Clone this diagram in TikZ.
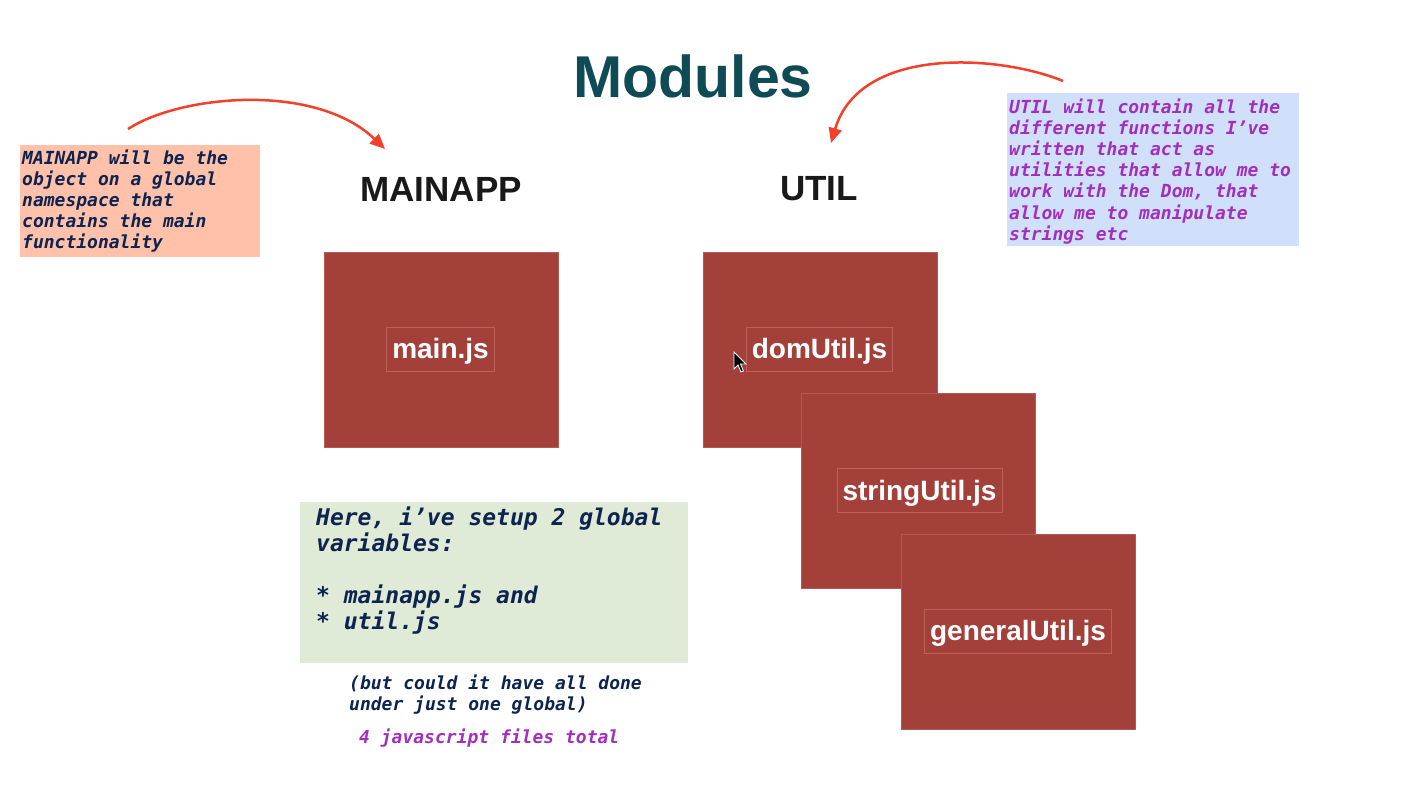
\documentclass[tikz,border=0pt]{standalone}
\usepackage{fontspec}
\usetikzlibrary{arrows.meta}
\newfontfamily\hsans{Liberation Sans}
\newfontfamily\monof{DejaVu Sans Mono}
\definecolor{salmon}{HTML}{FFC1AA}
\definecolor{navy}{HTML}{0D2350}
\definecolor{lblue}{HTML}{D0E0FA}
\definecolor{purp}{HTML}{A22FBC}
\definecolor{lgreen}{HTML}{DFEBD6}
\definecolor{boxred}{HTML}{A4403A}
\definecolor{edgered}{HTML}{B55A52}
\definecolor{labred}{HTML}{BE605A}
\definecolor{teal}{HTML}{0E4B54}
\definecolor{arrred}{HTML}{F4402A}
\tikzset{
  notebox/.style={anchor=north west, inner sep=0pt, minimum width=#1},
  monotext/.style={anchor=base west, inner sep=0pt, align=left, font=\monof\bfseries\itshape\fontsize{18}{21.2}\selectfont},
  bigmono/.style={anchor=base west, inner sep=0pt, align=left, font=\monof\bfseries\itshape\fontsize{23}{26}\selectfont},
  redbox/.style={fill=boxred, draw=edgered, line width=0.8pt, minimum width=234pt, minimum height=195pt, inner sep=0pt},
  filelabel/.style={draw=labred, line width=0.6pt, text=white, font=\hsans\bfseries\fontsize{28}{30}\selectfont, text height=19pt, text depth=0pt, minimum height=44pt, inner xsep=5.5pt, inner ysep=0pt},
  heading/.style={anchor=base, inner sep=0pt, font=\hsans\bfseries\fontsize{35}{38}\selectfont, text=black!90},
  curvearrow/.style={draw=arrred, line width=2.5pt, -{Triangle[length=15pt,width=13pt]}},
}
\begin{document}
\begin{tikzpicture}[x=1pt,y=-1pt]
\useasboundingbox (0,0) rectangle (1419,790);
\fill[white] (0,0) rectangle (1419,790);

% title
\node[anchor=base, inner sep=0pt, text=teal, font=\hsans\bfseries\fontsize{59}{62}\selectfont] (title) at (693,97) {Modules};

% headings
\node[heading] (mainapp) at (441,201) {MAINAPP};
\node[heading] (util) at (819,200) {UTIL};

% left note (base anchor = baseline of the last line)
\node[notebox=240pt, minimum height=112pt, fill=salmon] (lbox) at (20,145) {};
\node[monotext, text=navy] (ltext) at (22,248.8) {MAINAPP will be the\\object on a global\\namespace that\\contains the main\\functionality};

% right note
\node[notebox=292pt, minimum height=153pt, fill=lblue] (rbox) at (1007,93) {};
\node[monotext, text=purp] (rtext) at (1009,240.2) {UTIL will contain all the\\different functions I’ve\\written that act as\\utilities that allow me to\\work with the Dom, that\\allow me to manipulate\\strings etc};

% green note
\node[notebox=388pt, minimum height=161pt, fill=lgreen] (gbox) at (300,502) {};
\node[bigmono, text=navy] (gtext) at (316,629) {Here, i’ve setup 2 global\\variables:\\[26pt]* mainapp.js and\\* util.js};

\node[monotext, text=navy] (btext) at (349,710.2) {(but could it have all done\\under just one global)};
\node[monotext, text=purp] (ftext) at (359,743) {4 javascript files total};

% red boxes
\node[redbox] (mainbox) at (441,350) {};
\node[filelabel] (mainlab) at (440.5,349) {main.js};

\node[redbox] (dombox) at (820,350) {};
\node[filelabel] (domlab) at (819.5,349) {domUtil.js};

\node[redbox] (strbox) at (918.5,490.5) {};
\node[filelabel] (strlab) at (919.5,490.5) {stringUtil.js};

\node[redbox] (genbox) at (1018,631.5) {};
\node[filelabel] (genlab) at (1018,631) {generalUtil.js};

% mouse cursor
\filldraw[fill=black, draw=white, line width=0.8pt] (734,352) -- (734,369) -- (738,365) -- (741,372) -- (743.5,371) -- (740.5,364) -- (746,364) -- cycle;

% arrows
\coordinate (la) at (128,129);
\coordinate (lb) at (385,149);
\draw[curvearrow] (la) .. controls (180,95) and (315,82) .. (lb);
\coordinate (ra) at (1063,81);
\coordinate (rb) at (831,143);
\draw[curvearrow] (ra) .. controls (1000,55) and (860,45) .. (rb);
\end{tikzpicture}
\end{document}
